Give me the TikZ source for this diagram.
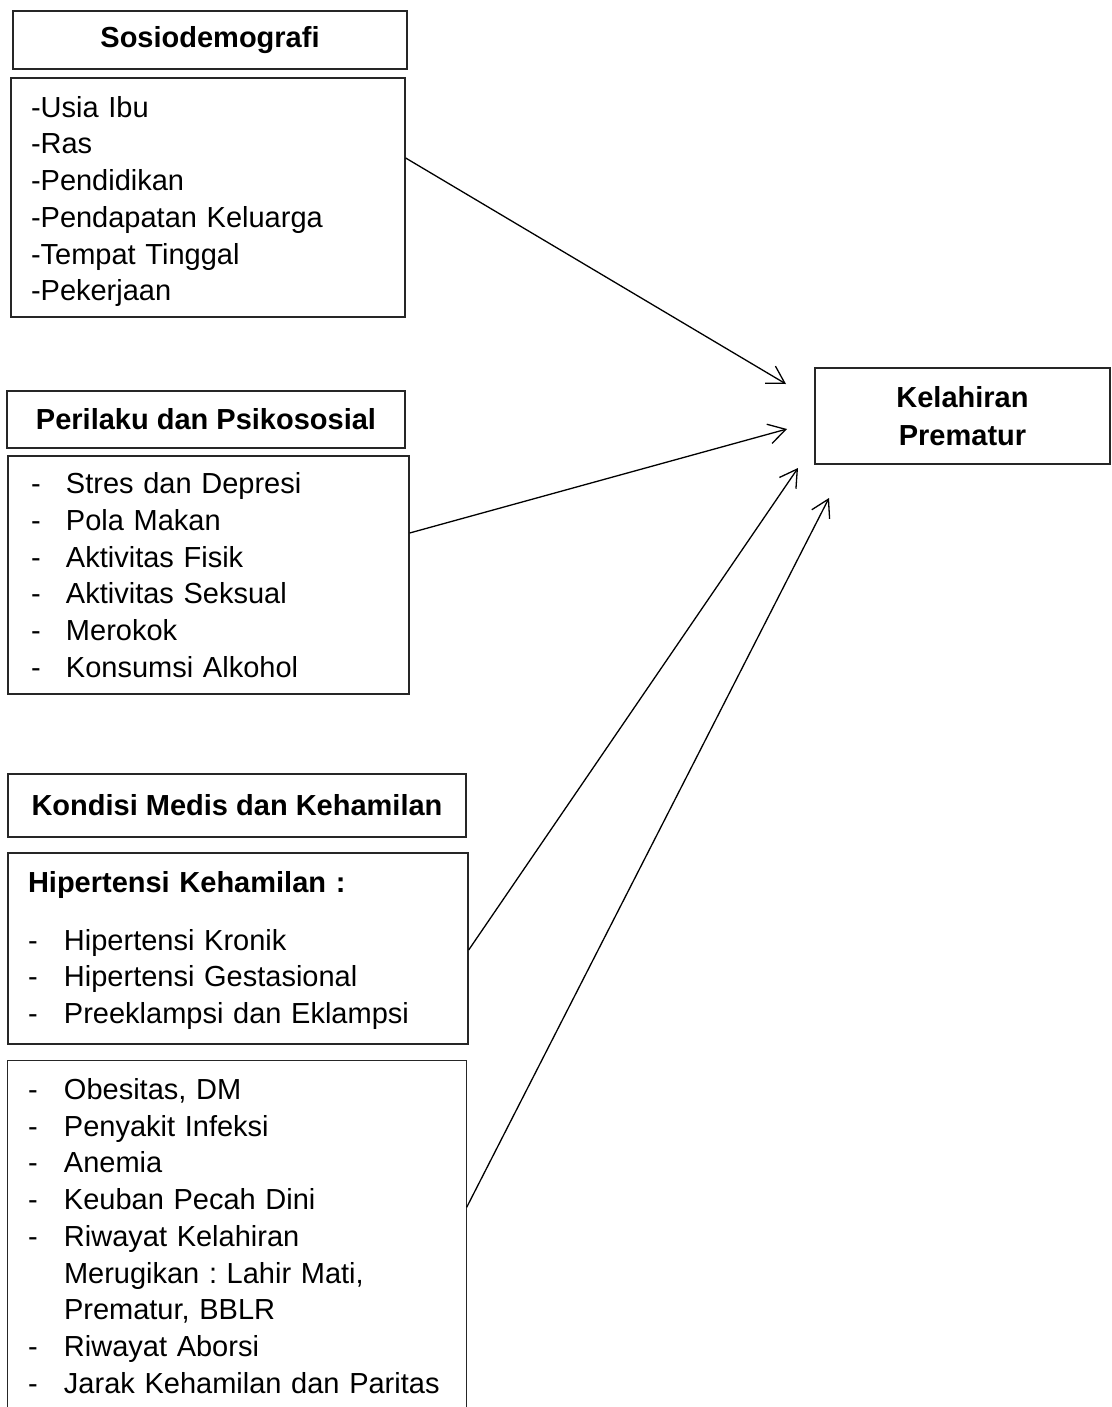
\documentclass[tikz,border=0pt]{standalone}
\usepackage{fontspec}
\setmainfont{Liberation Sans}
\usetikzlibrary{arrows.meta}
\frenchspacing
\newcommand\myitem[1]{\makebox[36pt][l]{-}#1}
\tikzset{
  boxline/.style={draw=black!85, line width=1.3pt},
  headbox/.style={boxline, inner sep=0pt, align=center,
    font=\fontsize{29}{36.7}\selectfont\bfseries},
  listbox/.style={boxline, inner ysep=0pt, align=left,
    font=\fontsize{29}{36.7}\selectfont\frenchspacing},
  arr/.style={line width=1.3pt, black,
    -{Straight Barb[length=17pt,width=20pt]}}
}
\begin{document}
\begin{tikzpicture}[x=1pt,y=-1pt]
\useasboundingbox (0,0) rectangle (1111,1407);
\coordinate (pb) at (0,1407);

% Sosiodemografi
\node[headbox, minimum width=394pt, minimum height=58pt] (A) at (210,40) {Sosiodemografi};
\node[listbox, inner xsep=20pt, text width=354pt, minimum height=239pt] (B) at (208,197.5)
  {\rule{0pt}{29pt}-Usia Ibu\\-Ras\\-Pendidikan\\-Pendapatan Keluarga\\-Tempat Tinggal\\-Pekerjaan};

% Perilaku dan Psikososial
\node[headbox, minimum width=398pt, minimum height=57pt] (C) at (206,419.5) {Perilaku dan Psikososial};
\node[listbox, inner xsep=23pt, text width=355pt, minimum height=238pt] (D) at (208.5,575)
  {\makebox[35pt][l]{-}Stres dan Depresi\\\makebox[35pt][l]{-}Pola Makan\\\makebox[35pt][l]{-}Aktivitas Fisik\\\makebox[35pt][l]{-}Aktivitas Seksual\\\makebox[35pt][l]{-}Merokok\\\makebox[35pt][l]{-}Konsumsi Alkohol};

% Kondisi Medis dan Kehamilan
\node[headbox, minimum width=458pt, minimum height=63pt] (E) at (237,805.5) {Kondisi Medis dan Kehamilan};
\node[listbox, inner xsep=20pt, text width=420pt, minimum height=191pt] (F) at (238,948.5)
  {\rule{0pt}{25pt}\textbf{Hipertensi Kehamilan :}\\[21pt]\myitem{Hipertensi Kronik}\\\myitem{Hipertensi Gestasional}\\\myitem{Preeklampsi dan Eklampsi}};

\node[listbox, draw=none, inner xsep=20pt, text width=418pt, minimum height=350pt] (G) at (237,1236)
  {\myitem{Obesitas, DM}\\\myitem{Penyakit Infeksi}\\\myitem{Anemia}\\\myitem{Keuban Pecah Dini}\\\myitem{Riwayat Kelahiran}\\\hspace*{36pt}Merugikan : Lahir Mati,\\\hspace*{36pt}Prematur, BBLR\\\myitem{Riwayat Aborsi}\\\myitem{Jarak Kehamilan dan Paritas}};
\draw[boxline] (G.west |- pb) -- (G.north west) -- (G.north east) -- (G.east |- pb);

% Kelahiran Prematur
\node[boxline, inner sep=0pt, align=center, font=\fontsize{29}{38}\selectfont\bfseries,
  minimum width=295pt, minimum height=96pt] (H) at (962.5,416) {Kelahiran\\Prematur};

% arrow tips
\coordinate (t1) at (786,384);
\coordinate (t2) at (787,429);
\coordinate (t3) at (798,468);
\coordinate (t4) at (829,498);

\draw[arr] ([yshift=39.5pt]B.east) -- (t1);
\draw[arr] ([yshift=42pt]D.east) -- (t2);
\draw[arr] ([yshift=-1.5pt]F.east) -- (t3);
\draw[arr] ([yshift=-147pt]G.north east) -- (t4);
\end{tikzpicture}
\end{document}
